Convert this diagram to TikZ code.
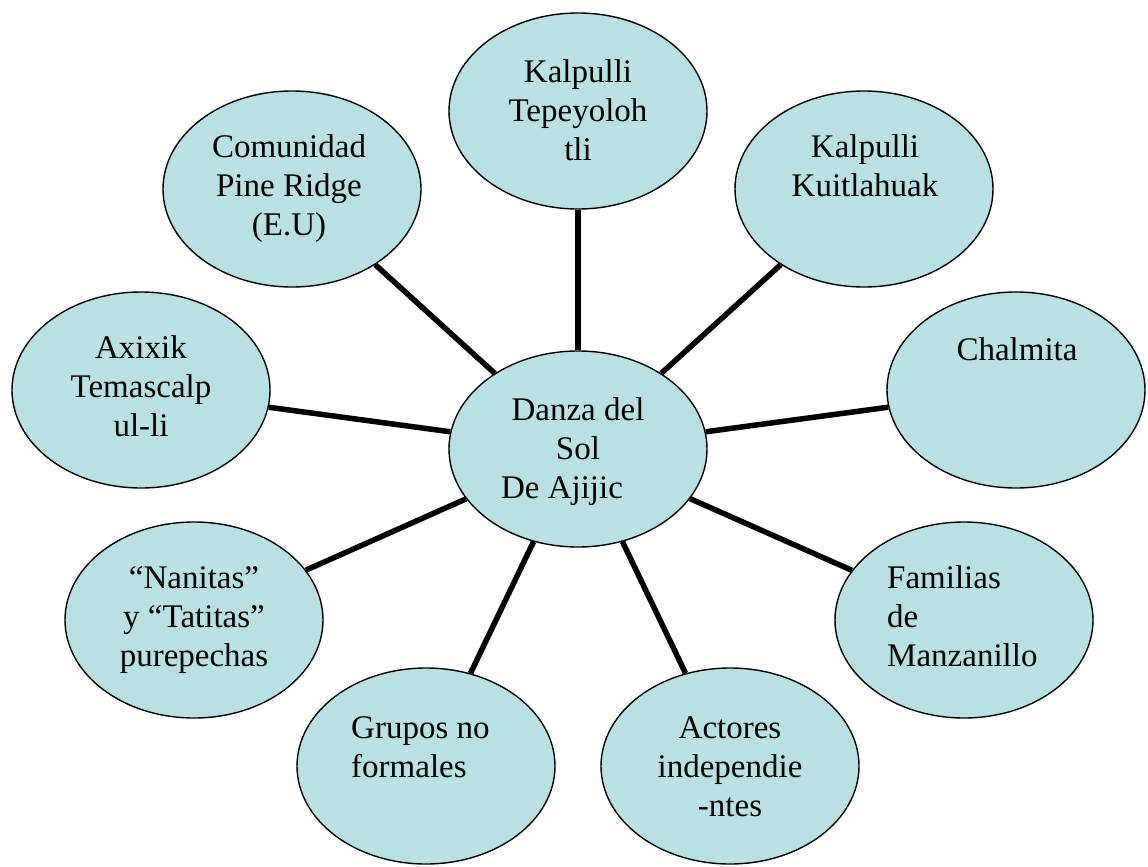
\documentclass[tikz,border=0pt]{standalone}
\usepackage{fontspec}
\setmainfont{Liberation Serif}
\usetikzlibrary{shapes.geometric}
\definecolor{bubblefill}{RGB}{185,224,227}
\begin{document}
\begin{tikzpicture}[x=1pt,y=-1pt,
  bubble/.style={ellipse, draw=black, line width=1.4pt, fill=bubblefill,
    minimum width=258pt, minimum height=196pt, inner sep=0pt},
  lbl/.style={font=\fontsize{33}{39}\selectfont, inner sep=0pt, align=center, anchor=base},
  lblleft/.style={lbl, align=left, anchor=base west},
  link/.style={line width=5.5pt, black}
]
\useasboundingbox (0,0) rectangle (1148,867);

% ellipses
\node[bubble] (danza) at (578,449) {};
\node[bubble] (tepe)  at (578,111) {};
\node[bubble] (kuit)  at (864,189) {};
\node[bubble] (comu)  at (292,189) {};
\node[bubble] (chal)  at (1016,390) {};
\node[bubble] (axix)  at (141,390) {};
\node[bubble] (nani)  at (194,620) {};
\node[bubble] (fami)  at (964,620) {};
\node[bubble] (grup)  at (426,766) {};
\node[bubble] (acto)  at (730,766) {};

% spokes from the centre
\foreach \n in {tepe,kuit,comu,chal,axix,nani,fami,grup,acto}
  \draw[link] (danza) -- (\n);

% texts (the base anchor sits on the last line)
\node[lbl] (tdanza) at (578,498) {Danza del\\Sol\\De Ajijic\kern32pt};
\node[lbl] (ttepe)  at (578,160) {Kalpulli\\Tepeyoloh\\tli};
\node[lbl] (tkuit)  at (865,196) {Kalpulli\\Kuitlahuak};
\node[lbl] (tcomu)  at (289,235) {Comunidad\\Pine Ridge\\(E.U)};
\node[lbl] (tchal)  at (1017,360) {Chalmita};
\node[lbl] (taxix)  at (141,436) {Axixik\\Temascalp\\ul-li};
\node[lbl] (tnani)  at (194,666) {“Nanitas”\\y “Tatitas”\\purepechas};
\node[lblleft] (tfami) at (887,666) {Familias\\de\\Manzanillo};
\node[lblleft] (tgrup) at (351,777) {Grupos no\\formales};
\node[lbl] (tacto)  at (730,816) {Actores\\independie\\-ntes};
\end{tikzpicture}
\end{document}
